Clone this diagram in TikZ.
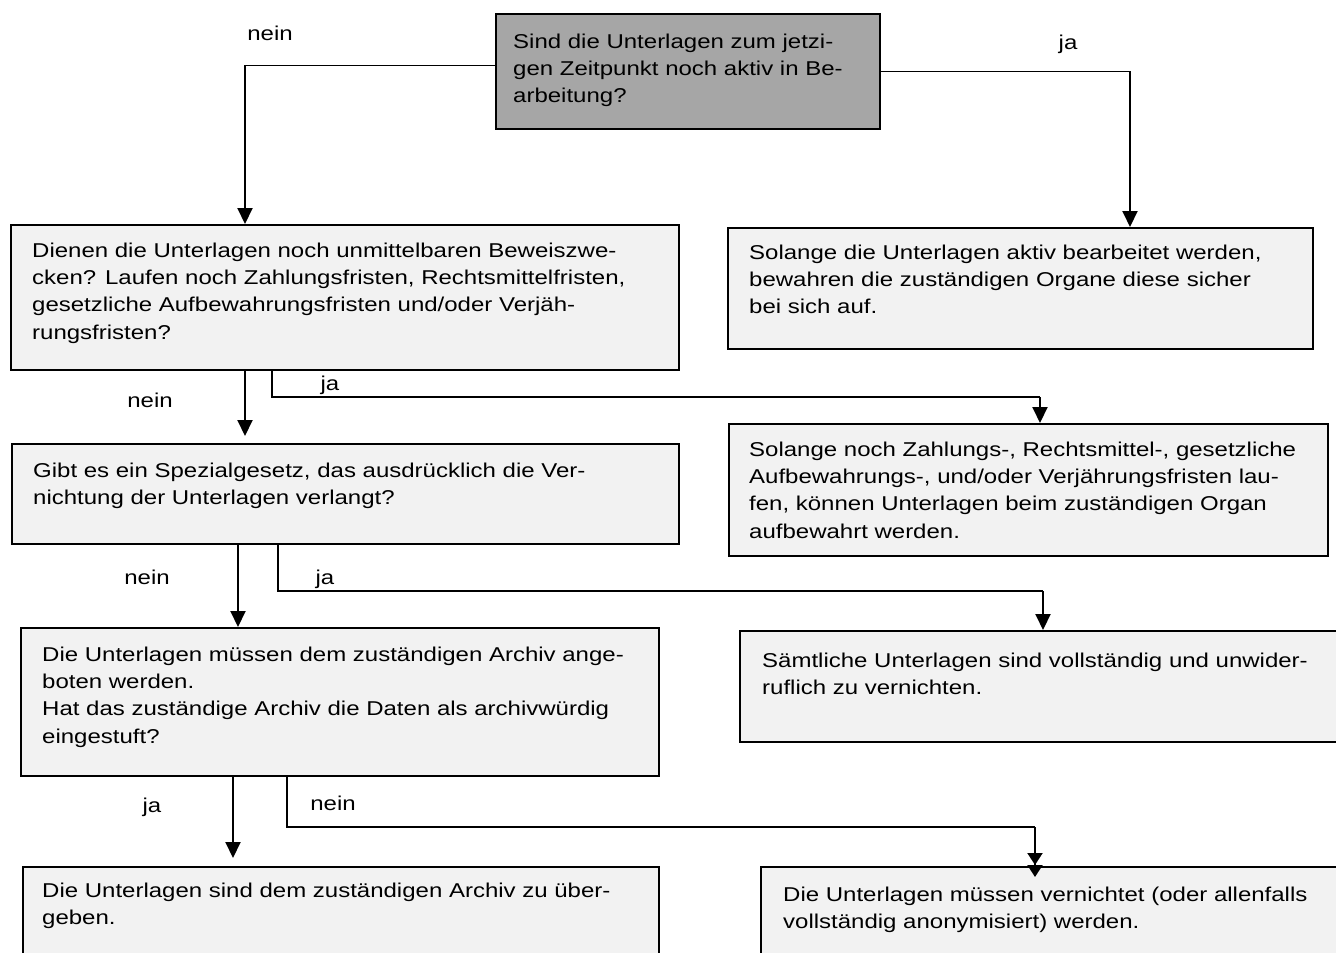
\documentclass[tikz,border=0pt]{standalone}
\usepackage{fontspec}
\setmainfont{Liberation Sans}[FakeStretch=1.2]
\usetikzlibrary{arrows.meta}
\definecolor{qgray}{HTML}{A6A6A6}
\definecolor{lgray}{HTML}{F2F2F2}
\newcommand{\tstr}{\rule{0pt}{16pt}}
\begin{document}
\begin{tikzpicture}[x=1pt,y=-1pt,
  box/.style={draw=black, line width=1.6pt, fill=lgray, rectangle, inner sep=0pt, anchor=north west},
  qbox/.style={box, fill=qgray},
  txt/.style={anchor=north west, inner sep=0pt, align=left, font=\fontsize{20}{27.3}\selectfont},
  lbl/.style={anchor=base, inner sep=0pt, font=\fontsize{20}{23}\selectfont},
  hline/.style={line width=1.4pt},
  tline/.style={line width=1pt},
  conn/.style={line width=2pt, -{Triangle[width=15pt,length=16pt]}},
  dconn/.style={line width=2pt, -{Triangle[width=15pt,length=12pt]Triangle[width=15pt,length=12pt]}}
]
\useasboundingbox (0,0) rectangle (1336,953);
\fill[white] (0,0) rectangle (1336,953);

% boxes
\node[qbox, minimum width=384pt, minimum height=115pt] (q1) at (495,13) {};
\node[box, minimum width=668pt, minimum height=145pt] (b) at (10,224) {};
\node[box, minimum width=585pt, minimum height=121pt] (c) at (727,227) {};
\node[box, minimum width=667pt, minimum height=100pt] (d) at (11,443) {};
\node[box, minimum width=599pt, minimum height=132pt] (e) at (728,423) {};
\node[box, minimum width=638pt, minimum height=148pt] (f) at (20,627) {};
\node[box, minimum width=620pt, minimum height=111pt] (g) at (739,630) {};
\node[box, minimum width=636pt, minimum height=120pt] (h) at (22,866) {};
\node[box, minimum width=600pt, minimum height=120pt] (i) at (760,866) {};

% texts
\node[txt] (q1t) at (513,32) {\tstr Sind die Unterlagen zum jetzi-\\gen Zeitpunkt noch aktiv in Be-\\arbeitung?};
\node[txt] (bt) at (32,241) {\tstr Dienen die Unterlagen noch unmittelbaren Beweiszwe-\\cken? Laufen noch Zahlungsfristen, Rechtsmittelfristen,\\gesetzliche Aufbewahrungsfristen und/oder Verjäh-\\rungsfristen?};
\node[txt] (ct) at (749,243) {\tstr Solange die Unterlagen aktiv bearbeitet werden,\\bewahren die zuständigen Organe diese sicher\\bei sich auf.};
\node[txt] (dt) at (33,461) {\tstr Gibt es ein Spezialgesetz, das ausdrücklich die Ver-\\nichtung der Unterlagen verlangt?};
\node[txt] (et) at (749,440) {\tstr Solange noch Zahlungs-, Rechtsmittel-, gesetzliche\\Aufbewahrungs-, und/oder Verjährungsfristen lau-\\fen, können Unterlagen beim zuständigen Organ\\aufbewahrt werden.};
\node[txt] (ft) at (42,645) {\tstr Die Unterlagen müssen dem zuständigen Archiv ange-\\boten werden.\\Hat das zuständige Archiv die Daten als archivwürdig\\eingestuft?};
\node[txt] (gt) at (762,651) {\tstr Sämtliche Unterlagen sind vollständig und unwider-\\ruflich zu vernichten.};
\node[txt] (ht) at (42,881) {\tstr Die Unterlagen sind dem zuständigen Archiv zu über-\\geben.};
\node[txt] (it) at (783,885) {\tstr Die Unterlagen müssen vernichtet (oder allenfalls\\vollständig anonymisiert) werden.};

% labels
\node[lbl] (l1) at (270,40) {nein};
\node[lbl] (l2) at (1068,49) {ja};
\node[lbl] (l3) at (150,407) {nein};
\node[lbl] (l4) at (330,390) {ja};
\node[lbl] (l5) at (147,584) {nein};
\node[lbl] (l6) at (325,584) {ja};
\node[lbl] (l7) at (152,812) {ja};
\node[lbl] (l8) at (333,810) {nein};

% bend coordinates
\coordinate (n1) at (245,65);
\coordinate (j1) at (1130,71);
\coordinate (a2) at (245,436);
\coordinate (b1) at (272,397);
\coordinate (b2) at (1040,397);
\coordinate (a3) at (238,627);
\coordinate (d1) at (278,591);
\coordinate (d2) at (1043,591);
\coordinate (a4) at (233,858);
\coordinate (f1) at (287,827);
\coordinate (f2) at (1035,827);
\coordinate (f3) at (1035,877);

% connectors
\draw[tline] (q1.west |- n1) -- (n1);
\draw[conn] (n1) -- (n1 |- b.north);
\draw[tline] (q1.east |- j1) -- (j1);
\draw[conn] (j1) -- (j1 |- c.north);

\draw[conn] (a2 |- b.south) -- (a2);
\draw[hline] (b1 |- b.south) -- (b1) -- (b2);
\draw[conn] (b2) -- (b2 |- e.north);

\draw[conn] (a3 |- d.south) -- (a3);
\draw[hline] (d1 |- d.south) -- (d1) -- (d2);
\draw[conn] (d2) -- (d2 |- g.north);

\draw[conn] (a4 |- f.south) -- (a4);
\draw[hline] (f1 |- f.south) -- (f1) -- (f2);
\draw[dconn] (f2) -- (f3);
\end{tikzpicture}
\end{document}
